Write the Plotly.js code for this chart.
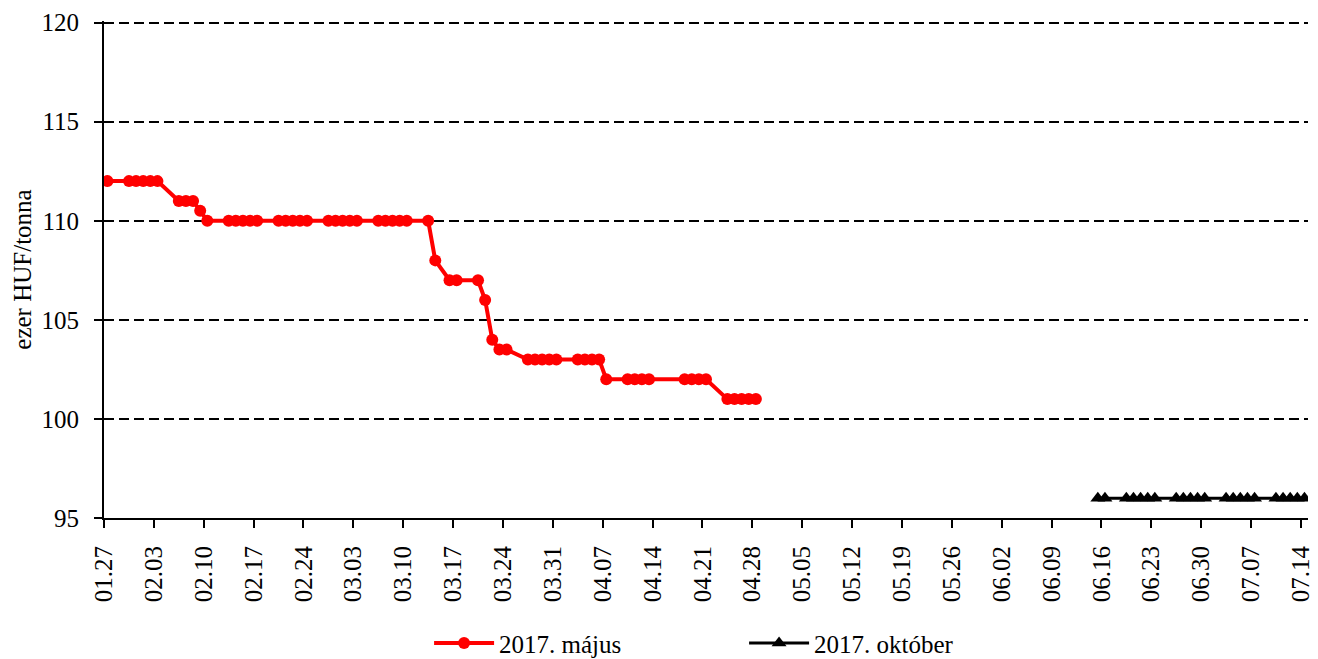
<!DOCTYPE html>
<html>
<head>
<meta charset="utf-8">
<script src="https://cdn.plot.ly/plotly-3.0.1.min.js"></script>
<style>
html,body{margin:0;padding:0;background:#fff;}
#chart{width:1318px;height:659px;}
</style>
</head>
<body>
<div id="chart"></div>
<script>
// Series 1: 2017. május
const mayDates = [
  '2017-01-27',
  '2017-01-30','2017-01-31','2017-02-01','2017-02-02','2017-02-03',
  '2017-02-06','2017-02-07','2017-02-08','2017-02-09','2017-02-10',
  '2017-02-13','2017-02-14','2017-02-15','2017-02-16','2017-02-17',
  '2017-02-20','2017-02-21','2017-02-22','2017-02-23','2017-02-24',
  '2017-02-27','2017-02-28','2017-03-01','2017-03-02','2017-03-03',
  '2017-03-06','2017-03-07','2017-03-08','2017-03-09','2017-03-10',
  '2017-03-13','2017-03-14','2017-03-16','2017-03-17',
  '2017-03-20','2017-03-21','2017-03-22','2017-03-23','2017-03-24',
  '2017-03-27','2017-03-28','2017-03-29','2017-03-30','2017-03-31',
  '2017-04-03','2017-04-04','2017-04-05','2017-04-06','2017-04-07',
  '2017-04-10','2017-04-11','2017-04-12','2017-04-13',
  '2017-04-18','2017-04-19','2017-04-20','2017-04-21',
  '2017-04-24','2017-04-25','2017-04-26','2017-04-27','2017-04-28'
];
const mayValues = [
  112,
  112,112,112,112,112,
  111,111,111,110.5,110,
  110,110,110,110,110,
  110,110,110,110,110,
  110,110,110,110,110,
  110,110,110,110,110,
  110,108,107,107,
  107,106,104,103.5,103.5,
  103,103,103,103,103,
  103,103,103,103,102,
  102,102,102,102,
  102,102,102,102,
  101,101,101,101,101
];

// Series 2: 2017. október
const octDates = [
  '2017-06-15','2017-06-16',
  '2017-06-19','2017-06-20','2017-06-21','2017-06-22','2017-06-23',
  '2017-06-26','2017-06-27','2017-06-28','2017-06-29','2017-06-30',
  '2017-07-03','2017-07-04','2017-07-05','2017-07-06','2017-07-07',
  '2017-07-10','2017-07-11','2017-07-12','2017-07-13','2017-07-14'
];
const octValues = [
  96,96,
  96,96,96,96,96,
  96,96,96,96,96,
  96,96,96,96,96,
  96,96,96,96,96
];

const seriesNames = ['2017. május', '2017. október'];
const yTitle = 'ezer HUF/tonna';

const FONT = '"Liberation Serif", "Times New Roman", serif';
const FS = 25;
const DAY = 86400000;

const traces = [
  {
    x: mayDates, y: mayValues, name: seriesNames[0],
    type: 'scatter', mode: 'lines+markers',
    xperiod: DAY, xperiodalignment: 'middle',
    line: {color: '#ff0000', width: 4},
    marker: {color: '#ff0000', size: 12, symbol: 'circle'}
  },
  {
    x: octDates, y: octValues, name: seriesNames[1],
    type: 'scatter', mode: 'lines+markers',
    xperiod: DAY, xperiodalignment: 'middle',
    line: {color: '#000000', width: 3},
    marker: {color: '#000000', size: 13, symbol: 'triangle-up'}
  }
];

const layout = {
  width: 1318, height: 659,
  paper_bgcolor: '#ffffff', plot_bgcolor: '#ffffff',
  margin: {l: 104, r: 10, t: 21, b: 141, autoexpand: false},
  font: {family: FONT, size: FS, color: '#000'},
  showlegend: true,
  legend: {
    orientation: 'h', x: 0.27, xanchor: 'left', y: -0.252, yanchor: 'middle',
    font: {family: FONT, size: FS, color: '#000'},
    itemwidth: 60, entrywidth: 240, entrywidthmode: 'pixels',
    bgcolor: 'rgba(0,0,0,0)'
  },
  xaxis: {
    type: 'date',
    range: ['2017-01-27', '2017-07-15'],
    tick0: '2017-01-27', dtick: 7 * DAY,
    tickformat: '%m.%d', tickangle: -90,
    ticks: 'outside', ticklen: 8, tickwidth: 2, tickcolor: '#000',
    ticklabelstandoff: 8,
    showline: true, linecolor: '#000', linewidth: 2,
    showgrid: false, zeroline: false,
    tickfont: {family: FONT, size: FS, color: '#000'},
    fixedrange: true
  },
  yaxis: {
    range: [95, 120.08], dtick: 5, tick0: 95,
    ticks: 'outside', ticklen: 8, tickwidth: 2, tickcolor: '#000',
    ticklabelstandoff: 10,
    showline: true, linecolor: '#000', linewidth: 2,
    showgrid: true, gridcolor: '#000', gridwidth: 2, griddash: '10px,5px',
    zeroline: false,
    tickfont: {family: FONT, size: FS, color: '#000'},
    title: {text: yTitle, font: {family: FONT, size: FS, color: '#000'}, standoff: 3},
    fixedrange: true
  }
};

Plotly.newPlot('chart', traces, layout, {displayModeBar: false, staticPlot: true});
</script>
</body>
</html>
